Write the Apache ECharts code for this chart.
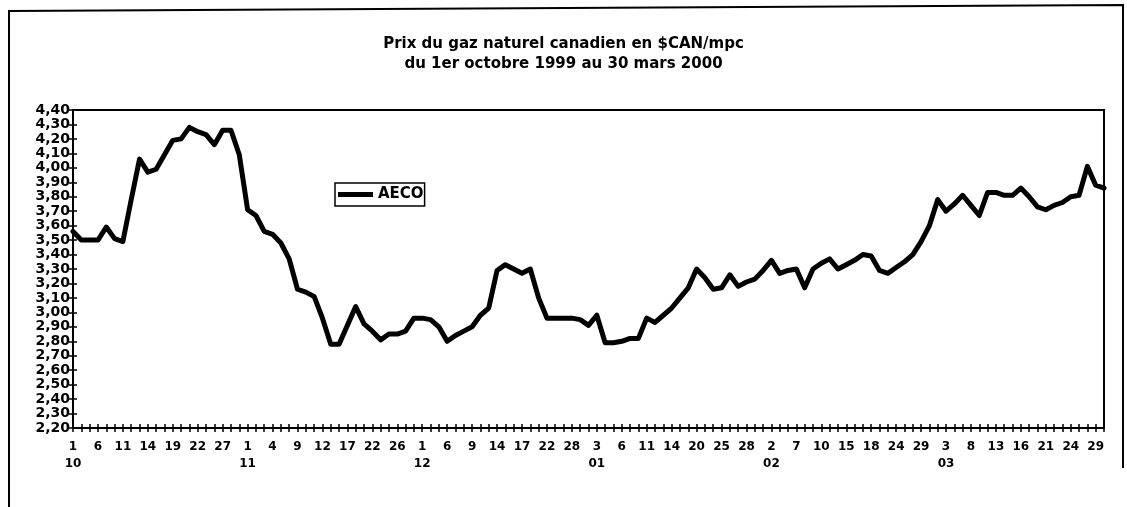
<!DOCTYPE html>
<html>
<head>
<meta charset="utf-8">
<script src="https://cdn.jsdelivr.net/npm/echarts@6/dist/echarts.min.js"></script>
<style>
  html, body { margin: 0; padding: 0; background: #fff; }
  #chart { width: 1127px; height: 507px; }
</style>
</head>
<body>
<div id="chart"></div>
<script>
// trading days, 1 Oct 1999 .. 30 Mar 2000
const monthLabels = ['10', '11', '12', '01', '02', '03'];
const octDays = [1, 4, 5, 6, 7, 8, 11, 12, 13, 14, 15, 18, 19, 20, 21, 22, 25, 26, 27, 28, 29];
const novDays = [1, 2, 3, 4, 5, 8, 9, 10, 11, 12, 15, 16, 17, 18, 19, 22, 23, 24, 26, 29, 30];
const decDays = [1, 2, 3, 6, 7, 8, 9, 10, 13, 14, 15, 16, 17, 20, 21, 22, 23, 24, 28, 29, 30];
const janDays = [3, 4, 5, 6, 7, 10, 11, 12, 13, 14, 18, 19, 20, 21, 24, 25, 26, 27, 28, 31];
const febDays = [1, 2, 3, 4, 7, 8, 9, 10, 11, 14, 15, 16, 17, 18, 22, 23, 24, 25, 28, 29];
const marDays = [1, 2, 3, 6, 7, 8, 9, 10, 13, 14, 15, 16, 17, 20, 21, 22, 23, 24, 27, 28, 29, 30];

// AECO price, $CAN/mpc
const aecoPrices = [
  3.56, 3.50, 3.50, 3.50, 3.59, 3.51, 3.49, 3.78, 4.06, 3.97,
  3.99, 4.09, 4.19, 4.20, 4.28, 4.25, 4.23, 4.16, 4.26, 4.26,
  4.09, 3.71, 3.67, 3.56, 3.54, 3.48, 3.37, 3.16, 3.14, 3.11,
  2.96, 2.78, 2.78, 2.91, 3.04, 2.92, 2.87, 2.81, 2.85, 2.85,
  2.87, 2.96, 2.96, 2.95, 2.90, 2.80, 2.84, 2.87, 2.90, 2.98,
  3.03, 3.29, 3.33, 3.30, 3.27, 3.30, 3.10, 2.96, 2.96, 2.96,
  2.96, 2.95, 2.91, 2.98, 2.79, 2.79, 2.80, 2.82, 2.82, 2.96,
  2.93, 2.98, 3.03, 3.10, 3.17, 3.30, 3.24, 3.16, 3.17, 3.26,
  3.18, 3.21, 3.23, 3.29, 3.36, 3.27, 3.29, 3.30, 3.17, 3.30,
  3.34, 3.37, 3.30, 3.33, 3.36, 3.40, 3.39, 3.29, 3.27, 3.31,
  3.35, 3.40, 3.49, 3.60, 3.78, 3.70, 3.75, 3.81, 3.74, 3.67,
  3.83, 3.83, 3.81, 3.81, 3.86, 3.80, 3.73, 3.71, 3.74, 3.76,
  3.80, 3.81, 4.01, 3.88, 3.86
];

const yMin = 2.2;
const yMax = 4.4;
const yStep = 0.1;

const titleText = 'Prix du gaz naturel canadien en $CAN/mpc\ndu 1er octobre 1999 au 30 mars 2000';
const seriesName = 'AECO';

const categories = [];
const catMonth = [];
[octDays, novDays, decDays, janDays, febDays, marDays].forEach((days, m) => {
  days.forEach(d => {
    categories.push(monthLabels[m] + '/' + (d < 10 ? '0' + d : d));
    catMonth.push(monthLabels[m]);
  });
});

const boldFont = 'DejaVu Sans';

const xLabel = value => {
  const idx = categories.indexOf(value);
  const day = String(parseInt(value.split('/')[1], 10));
  const m = catMonth[idx];
  const first = idx < 3 || catMonth[idx - 3] !== m;
  return first ? day + '\n' + m : day;
};

const chart = echarts.init(document.getElementById('chart'));

chart.setOption({
  animation: false,
  backgroundColor: '#fff',
  title: {
    text: titleText,
    left: 'center',
    top: 34,
    padding: 0,
    textStyle: {
      fontFamily: boldFont,
      fontWeight: 'bold',
      fontSize: 15,
      lineHeight: 20,
      color: '#000'
    }
  },
  legend: {
    data: [{ name: seriesName, icon: 'rect' }],
    left: 335,
    top: 183,
    padding: [4, 1, 4, 3],
    itemWidth: 35,
    itemHeight: 5,
    borderColor: '#000',
    borderWidth: 1.5,
    textStyle: {
      fontFamily: boldFont,
      fontWeight: 'bold',
      fontSize: 15,
      color: '#000'
    }
  },
  grid: {
    left: 73,
    right: 23,
    top: 110,
    bottom: 79,
    show: true,
    borderColor: '#000',
    borderWidth: 2
  },
  xAxis: [
    {
      type: 'category',
      data: categories,
      boundaryGap: false,
      axisLine: { lineStyle: { color: '#000', width: 2 } },
      axisTick: { show: true, interval: 0, length: 4, lineStyle: { color: '#000', width: 1.5 } },
      axisLabel: {
        interval: 2,
        formatter: xLabel,
        color: '#000',
        fontFamily: boldFont,
        fontWeight: 'bold',
        fontSize: 12,
        lineHeight: 17,
        margin: 10
      },
      splitLine: { show: false }
    },
    {
      type: 'category',
      data: categories,
      boundaryGap: false,
      position: 'bottom',
      axisLine: { show: false },
      axisTick: { show: true, inside: true, interval: 0, length: 4, lineStyle: { color: '#000', width: 1.5 } },
      axisLabel: { show: false },
      splitLine: { show: false }
    }
  ],
  yAxis: [
    {
      type: 'value',
      min: yMin,
      max: yMax,
      interval: yStep,
      axisLine: { show: true, lineStyle: { color: '#000', width: 2 } },
      axisTick: { show: true, length: 4, lineStyle: { color: '#000', width: 1.5 } },
      axisLabel: {
        formatter: v => v.toFixed(2).replace('.', ','),
        color: '#000',
        fontFamily: boldFont,
        fontWeight: 'bold',
        fontSize: 14,
        margin: 3
      },
      splitLine: { show: false }
    },
    {
      type: 'value',
      min: yMin,
      max: yMax,
      interval: yStep,
      position: 'left',
      axisLine: { show: false },
      axisTick: { show: true, inside: true, length: 4, lineStyle: { color: '#000', width: 1.5 } },
      axisLabel: { show: false },
      splitLine: { show: false }
    }
  ],
  series: [
    {
      name: seriesName,
      type: 'line',
      data: aecoPrices,
      xAxisIndex: 0,
      yAxisIndex: 0,
      symbol: 'none',
      color: '#000',
      lineStyle: { color: '#000', width: 5, join: 'round', cap: 'round' }
    }
  ],
  graphic: [
    {
      type: 'polyline',
      shape: { points: [[9, 507], [9, 11], [1123, 5], [1123, 468]] },
      style: { stroke: '#000', lineWidth: 2, fill: null }
    }
  ]
});
</script>
</body>
</html>
